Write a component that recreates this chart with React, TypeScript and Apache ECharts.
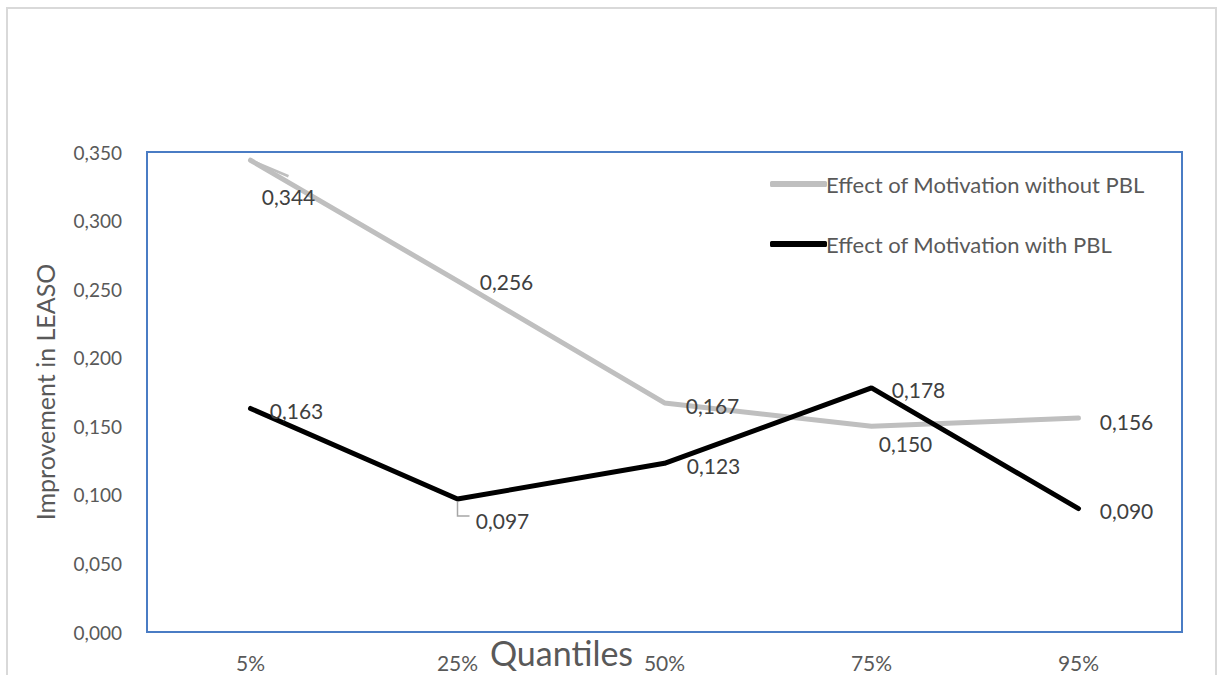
import React, { useEffect, useRef } from "react";
import * as echarts from "echarts";

// Quantile categories along the x axis
const quantiles = ["5%", "25%", "50%", "75%", "95%"];

// Effect estimates per quantile
const withoutPBL = [0.344, 0.256, 0.167, 0.15, 0.156];
const withPBL = [0.163, 0.097, 0.123, 0.178, 0.09];

// Label placement offsets (pixels from the point)
const withoutPBLOffsets = [
  [38, 36],
  [49, 1],
  [48, 3],
  [34, 17],
  [48, 3],
];
const withPBLOffsets = [
  [46, 2],
  [45, 22],
  [49, 2],
  [47, 2],
  [48, 2],
];

// Points whose labels are tied back with a leader line: [category index, value, kind]
const leaderPoints: [number, number, number][] = [
  [0, withoutPBL[0], 0],
  [1, withPBL[1], 1],
];

const FONT = "Lato, 'Open Sans', sans-serif";
const TEXT = "#595959";

const fmt = (v: number) => v.toFixed(3).replace(".", ",");

function buildData(values: number[], offsets: number[][]) {
  return values.map((v, i) => ({
    value: v,
    label: { offset: offsets[i] },
  }));
}

export default function App() {
  const ref = useRef<HTMLDivElement>(null);

  useEffect(() => {
    if (!ref.current) return;
    const chart = echarts.init(ref.current, undefined, { renderer: "svg" });

    const labelCommon = {
      show: true,
      position: "inside",
      fontFamily: FONT,
      fontSize: 21,
      color: "#404040",
      formatter: (p: any) => fmt(p.value),
    };

    chart.setOption({
      animation: false,
      backgroundColor: "#ffffff",
      textStyle: { fontFamily: FONT },
      grid: {
        left: 147,
        right: 43,
        top: 152,
        bottom: 43,
        show: true,
        borderColor: "#4a7cc4",
        borderWidth: 2,
        containLabel: false,
        outerBoundsMode: "none",
      },
      legend: {
        orient: "vertical",
        left: 765,
        top: 168,
        itemGap: 38,
        itemWidth: 57,
        itemHeight: 6,
        icon: "roundRect",
        textStyle: { fontFamily: FONT, fontSize: 22, color: TEXT, padding: [0, 0, 0, -6] },
        data: [
          { name: "Effect of Motivation without PBL", itemStyle: { color: "#bfbfbf" } },
          { name: "Effect of Motivation with PBL", itemStyle: { color: "#000000" } },
        ],
      },
      xAxis: {
        type: "category",
        data: quantiles,
        boundaryGap: true,
        axisLine: { show: false },
        axisTick: { show: false },
        axisLabel: { fontFamily: FONT, fontSize: 21, color: TEXT, margin: 20 },
        name: "Quantiles",
        nameLocation: "middle",
        nameGap: 3,
        nameMoveOverlap: false,
        nameTextStyle: {
          fontFamily: FONT,
          fontSize: 34,
          color: TEXT,
          padding: [0, 206, 0, 0],
        },
      },
      yAxis: {
        type: "value",
        min: 0,
        max: 0.35,
        interval: 0.05,
        splitLine: { show: false },
        axisLine: { show: false },
        axisTick: { show: false },
        axisLabel: {
          fontFamily: FONT,
          fontSize: 19,
          color: TEXT,
          margin: 25,
          formatter: (v: number) => fmt(v),
        },
        name: "Improvement in LEASO",
        nameLocation: "middle",
        nameGap: 90,
        nameMoveOverlap: false,
        nameTextStyle: { fontFamily: FONT, fontSize: 25, color: TEXT },
      },
      graphic: [
        {
          type: "rect",
          shape: { x: 7, y: 8, width: 1209, height: 700 },
          style: { fill: "none", stroke: "#d9d9d9", lineWidth: 2 },
          silent: true,
          z: -1,
        },
      ],
      series: [
        {
          name: "Effect of Motivation without PBL",
          type: "line",
          data: buildData(withoutPBL, withoutPBLOffsets),
          symbol: "circle",
          symbolSize: 1,
          showSymbol: true,
          lineStyle: { color: "#bfbfbf", width: 5, cap: "round" },
          itemStyle: { color: "#bfbfbf" },
          label: labelCommon,
          z: 2,
        },
        {
          name: "Effect of Motivation with PBL",
          type: "line",
          data: buildData(withPBL, withPBLOffsets),
          symbol: "circle",
          symbolSize: 1,
          showSymbol: true,
          lineStyle: { color: "#000000", width: 5, cap: "round" },
          itemStyle: { color: "#000000" },
          label: labelCommon,
          z: 3,
        },
        {
          name: "leaders",
          type: "custom",
          data: leaderPoints,
          silent: true,
          z: 1,
          renderItem: (_params: any, api: any) => {
            const p = api.coord([api.value(0), api.value(1)]);
            const kind = api.value(2);
            const pts =
              kind === 0
                ? [
                    [p[0], p[1]],
                    [p[0] + 38, p[1] + 16],
                  ]
                : [
                    [p[0], p[1] + 3],
                    [p[0], p[1] + 17],
                    [p[0] + 12, p[1] + 17],
                  ];
            return {
              type: "polyline",
              shape: { points: pts },
              style: {
                stroke: kind === 0 ? "#bfbfbf" : "#a6a6a6",
                lineWidth: kind === 0 ? 2.5 : 1.5,
                fill: "none",
              },
            };
          },
        },
      ],
    });

    return () => chart.dispose();
  }, []);

  return (
    <div
      ref={ref}
      style={{ position: "fixed", left: 0, top: 0, width: 1225, height: 675 }}
    />
  );
}
